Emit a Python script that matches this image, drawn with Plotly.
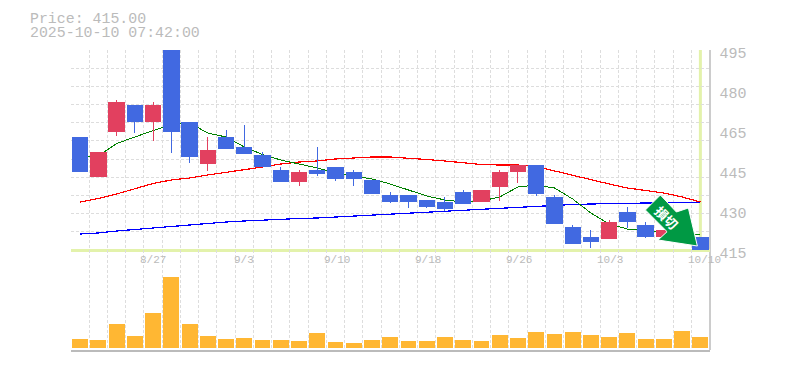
import plotly.graph_objects as go

W, H = 785, 370
PLOT_L, PLOT_R = 71, 709.5
P_TOP, P_BOT = 50, 250
V_TOP, V_BOT = 250, 350

title_lines = ["Price: 415.00", "2025-10-10 07:42:00"]
open_ = [460.2,444.6,462.6,473.0,466.6,497.0,466.2,449.8,460.2,456.2,453.0,447.0,442.6,447.0,448.2,446.2,443.0,437.0,437.0,435.0,434.2,438.2,434.6,440.6,446.6,449.0,436.2,424.2,420.2,419.8,430.2,425.0,420.6,422.0,420.2]
close = [446.6,454.2,474.2,466.6,473.0,462.6,452.6,455.0,455.8,453.8,448.6,442.6,446.2,445.8,443.8,443.8,437.8,434.6,434.6,432.6,431.8,433.8,439.0,446.2,449.0,437.8,425.8,417.8,418.6,426.2,426.6,420.6,423.0,418.0,415.0]
high = [460.2,454.2,475.0,473.0,474.2,497.0,466.2,460.2,463.0,465.0,454.2,448.2,447.0,456.2,448.2,447.0,443.0,438.2,437.0,435.0,436.2,439.0,439.0,447.0,449.0,449.0,437.0,425.0,423.0,427.0,432.2,426.2,423.0,422.0,420.2]
low = [446.6,444.6,460.6,461.8,458.6,453.8,449.8,446.6,455.8,453.8,448.6,442.6,440.6,444.6,442.6,440.6,437.8,433.8,431.8,431.8,430.6,433.8,434.6,434.6,441.8,436.6,425.8,417.8,415.8,419.8,423.8,419.8,420.6,418.0,415.0]
ma_short = [452.0,452.6,457.6,460.2,462.8,465.0,465.8,461.8,460.2,456.2,453.2,451.0,449.4,447.8,445.8,444.6,443.4,441.4,439.0,436.6,435.0,434.2,434.6,436.2,440.2,441.0,439.8,435.4,429.8,425.4,423.4,422.6,422.6,422.2,421.0]
ma_mid = [434.2,435.6,437.4,439.4,441.6,443.0,443.8,445.0,446.0,447.2,448.2,449.4,450.2,450.6,451.4,451.8,452.2,452.2,451.8,451.2,450.6,449.8,449.2,449.0,449.0,448.4,446.6,445.0,443.0,441.4,439.8,438.8,437.8,436.2,434.2]
ma_long = [421.4,421.8,422.6,423.2,423.8,424.6,425.2,425.8,426.2,426.6,427.0,427.4,427.6,427.8,428.2,428.6,429.0,429.4,429.8,430.2,430.6,431.0,431.4,431.8,432.2,432.6,433.0,433.2,433.4,433.6,433.8,433.8,433.8,434.0,434.2]
volume = [900,800,2400,1200,3500,7100,2400,1200,900,1000,800,800,700,1500,600,500,800,1100,700,700,1100,800,700,1300,1000,1600,1400,1600,1300,1100,1500,900,900,1700,1100]
price_ticks = [495,479,463,447,431,415]
price_labels = ["495","480","465","445","430","415"]
date_pos = [4,9,14,19,24,29,34]
date_labels = ["8/27","9/3","9/10","9/18","9/26","10/3","10/10"]
date_shift = [0,0,1,1,1,1,4]
signal_label = "<b>損切</b>"
last_index, last_price = 34, 415

x = list(range(len(close)))
GRID = "#dddddd"
TXT = "#bbbbbb"
MONO = "Liberation Mono"
DASH = "3px,2px"
BLUE = "#4169e1"
RED = "#e2405f"
LIME = "#e3f2ab"
px = lambda v: v / W
py = lambda v: 1 - v / H

fig = go.Figure()
fig.add_trace(go.Scatter(x=x, y=ma_long, mode="lines", line=dict(color="#0000ff", width=1.2), hoverinfo="skip"))
fig.add_trace(go.Scatter(x=x, y=ma_mid, mode="lines", line=dict(color="#ff0000", width=1.2), hoverinfo="skip"))
fig.add_trace(go.Scatter(x=x, y=ma_short, mode="lines", line=dict(color="#008000", width=1), hoverinfo="skip"))
fig.add_trace(go.Candlestick(x=x, open=open_, high=high, low=low, close=close,
    increasing=dict(line=dict(color=RED, width=1), fillcolor=RED),
    decreasing=dict(line=dict(color=BLUE, width=1), fillcolor=BLUE),
    whiskerwidth=0, xaxis="x", yaxis="y4"))
fig.add_trace(go.Bar(x=x, y=volume, marker=dict(color="#ffb733", line=dict(width=0)), width=0.87, xaxis="x2", yaxis="y2"))
fig.add_trace(go.Scatter(x=[0], y=[last_price], mode="markers", marker=dict(opacity=0), xaxis="x3", yaxis="y3", hoverinfo="skip"))

boundaries = [i - 0.5 for i in range(len(close) + 1)]
grid_vals = [415 + k * 80 / 11 for k in range(12)]
fig.update_layout(
    width=W, height=H, margin=dict(l=0, r=0, t=0, b=0), showlegend=False,
    paper_bgcolor="white", plot_bgcolor="white", boxgap=0.16, boxgroupgap=0,
    xaxis=dict(domain=[px(PLOT_L), px(PLOT_R)], range=[-0.5, 34.5], tickvals=boundaries, showticklabels=False,
               showgrid=True, gridcolor=GRID, griddash=DASH, gridwidth=1, zeroline=False, rangeslider=dict(visible=False), anchor="y", ticks=""),
    yaxis=dict(domain=[py(P_BOT), py(P_TOP)], range=[415, 495], tickvals=grid_vals, showticklabels=False,
               showgrid=True, gridcolor=GRID, griddash=DASH, gridwidth=1, zeroline=False, ticks="", anchor="x"),
    yaxis4=dict(overlaying="y", range=[415, 495], visible=False, anchor="x", showgrid=False, zeroline=False),
    xaxis3=dict(domain=[px(PLOT_R), px(PLOT_R + 1)], range=[-1, 1], visible=False, anchor="y3"),
    yaxis3=dict(domain=[py(265), py(45)], range=[410.2, 498.2], side="right", anchor="x3",
                tickvals=price_ticks, ticktext=price_labels, ticks="outside", ticklen=5, tickcolor="rgba(0,0,0,0)",
                tickfont=dict(family=MONO, size=15, color=TXT), showgrid=False, zeroline=False, showline=False),
    xaxis2=dict(domain=[px(PLOT_L), px(PLOT_R)], range=[-0.5, 34.5], tickvals=boundaries, showticklabels=False,
                showgrid=True, gridcolor=GRID, griddash=DASH, gridwidth=1, zeroline=False, anchor="y2", ticks="",
                showline=True, linecolor=TXT, linewidth=2),
    yaxis2=dict(domain=[py(V_BOT), py(V_TOP)], range=[-200, 9800], showticklabels=False, showgrid=False, zeroline=False,
                ticks="", anchor="x2"),
)

# right border, crosshair (behind the marks)
fig.add_shape(type="line", xref="paper", yref="paper", x0=px(710), x1=px(710), y0=py(P_TOP), y1=py(V_BOT), line=dict(color=TXT, width=1.5), layer="below")
fig.add_shape(type="line", xref="paper", yref="paper", x0=px(PLOT_L), x1=px(710), y0=py(250.5), y1=py(250.5), line=dict(color=LIME, width=3), layer="below")
fig.add_shape(type="line", xref="x", yref="paper", x0=last_index, x1=last_index, y0=py(50), y1=py(250), line=dict(color=LIME, width=3), layer="below")

# signal arrow anchored on the last candle
arrow_path = "M -40,55 L -55,40 L -33.3,18.3 L -42.3,10 L -3,4 L -12,42 L -24,38 Z"
fig.add_shape(type="path", xref="x", yref="y", xsizemode="pixel", ysizemode="pixel", xanchor=last_index, yanchor=last_price,
              path=arrow_path, fillcolor="#009944", line=dict(color="white", width=1), layer="above")
fig.add_annotation(xref="x", yref="y", x=last_index, y=last_price, xshift=-33.5, yshift=33, text=signal_label, textangle=45,
                   showarrow=False, font=dict(family="Noto Sans CJK JP", size=13, color="white"))

for i, lab, s in zip(date_pos, date_labels, date_shift):
    fig.add_annotation(xref="x", yref="paper", x=i, y=py(260), xshift=s, text=lab, showarrow=False, yanchor="middle",
                       font=dict(family=MONO, size=11, color=TXT))
for line, yy in zip(title_lines, [18.5, 33.5]):
    fig.add_annotation(xref="paper", yref="paper", x=px(30), y=py(yy), xanchor="left", yanchor="middle", text=line, showarrow=False,
                       xshift=-2, font=dict(family=MONO, size=14.9, color=TXT))

crisp = ("var s=document.createElement('style');"
         "s.textContent='.cartesianlayer path{shape-rendering:crispEdges !important}';"
         "document.head.appendChild(s);"
         "document.body.style.margin='0';document.body.style.overflow='hidden';")
fig.write_html("out.html", config=dict(displayModeBar=False), post_script=crisp)
